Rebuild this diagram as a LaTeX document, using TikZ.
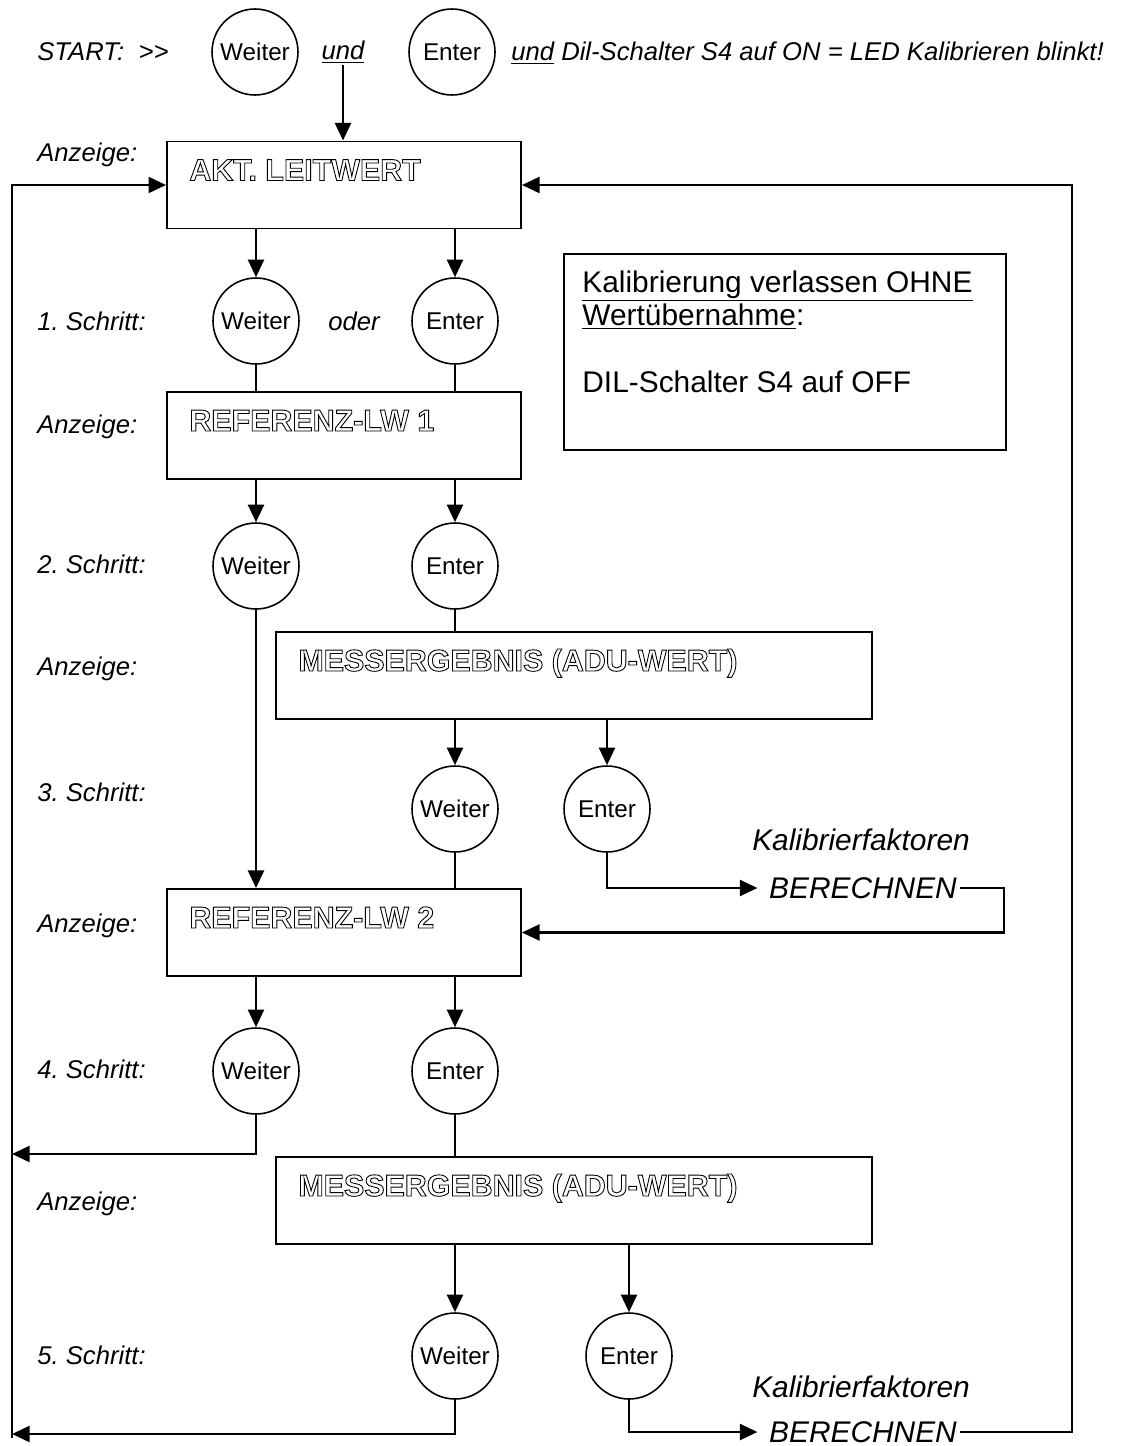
\documentclass[tikz,border=0pt]{standalone}
\usepackage{fontspec}
\setmainfont{Liberation Sans}
\usetikzlibrary{arrows.meta}
\frenchspacing
\newcommand{\keysize}{1.72cm}
\newcommand{\smallboxw}{7.08cm}
\newcommand{\wideboxw}{11.92cm}
\newcommand{\dispboxh}{1.74cm}
\newcommand{\dispinsetx}{0.46cm}
\newcommand{\dispinsety}{-0.8cm}
\newcommand{\hollow}[1]{\special{pdf:literal direct 1 Tr 0.5 w}#1\special{pdf:literal direct 0 Tr}}
\newcommand{\dispfont}{\fontsize{17.3}{20}\selectfont\bfseries}
\newcommand{\labelfont}{\fontsize{14.6}{17}\selectfont\itshape}
\newcommand{\calcfont}{\fontsize{17}{20}\selectfont\itshape}

\begin{document}
\begin{tikzpicture}[x=0.02cm,y=-0.02cm,
    key/.style={circle,draw,line width=0.9pt,minimum size=\keysize,inner sep=0pt,
      font=\fontsize{13.8}{16}\selectfont},
    dispbox/.style={draw,line width=1.1pt,minimum height=\dispboxh,inner sep=0pt},
    disptext/.style={anchor=base west,inner sep=0pt,font=\dispfont},
    lefttext/.style={anchor=base west,inner sep=0pt,font=\labelfont},
    calctext/.style={inner sep=1.5pt,font=\calcfont},
    flow/.style={line width=1.6pt},
    arr/.style={flow,-{Triangle[length=10pt,width=9pt]}}]
  \useasboundingbox (0,0) rectangle (1123,1446);

  % start line
  \node[lefttext] (start) at (37,61) {START:\ \ {>}{>}};
  \node[key] (wstart) at (255,52) {Weiter};
  \node[inner sep=1pt,font=\labelfont] (und) at (343,52) {\underline{und}};
  \node[key] (estart) at (452,52) {Enter};
  \node[lefttext] (cond) at (511,61) {\underline{und} Dil-Schalter S4 auf ON = LED Kalibrieren blinkt!};

  % left column
  \begin{scope}
    \node[lefttext] (anz1) at (37,162) {Anzeige:};
    \node[lefttext] (step1) at (37,330) {1. Schritt:};
    \node[lefttext] (anz2) at (37,433) {Anzeige:};
    \node[lefttext] (step2) at (37,573) {2. Schritt:};
    \node[lefttext] (anz3) at (37,675) {Anzeige:};
    \node[lefttext] (step3) at (37,801) {3. Schritt:};
    \node[lefttext] (anz4) at (37,932) {Anzeige:};
    \node[lefttext] (step4) at (37,1078) {4. Schritt:};
    \node[lefttext] (anz5) at (37,1210) {Anzeige:};
    \node[lefttext] (step5) at (37,1364) {5. Schritt:};
  \end{scope}

  % displays
  \node[dispbox,minimum width=\smallboxw] (akt) at (344,185) {};
  \node[disptext] (akttext) at ([xshift=\dispinsetx,yshift=\dispinsety]akt.north west) {\hollow{AKT. LEITWERT}};
  \node[dispbox,minimum width=\smallboxw] (ref1) at (344,435.5) {};
  \node[disptext] (ref1text) at ([xshift=\dispinsetx,yshift=\dispinsety]ref1.north west) {\hollow{REFERENZ-LW 1}};
  \node[dispbox,minimum width=\wideboxw] (mess1) at (574,675.5) {};
  \node[disptext] (mess1text) at ([xshift=\dispinsetx,yshift=\dispinsety]mess1.north west) {\hollow{MESSERGEBNIS (ADU-WERT)}};
  \node[dispbox,minimum width=\smallboxw] (ref2) at (344,932.5) {};
  \node[disptext] (ref2text) at ([xshift=\dispinsetx,yshift=\dispinsety]ref2.north west) {\hollow{REFERENZ-LW 2}};
  \node[dispbox,minimum width=\wideboxw] (mess2) at (574,1200.5) {};
  \node[disptext] (mess2text) at ([xshift=\dispinsetx,yshift=\dispinsety]mess2.north west) {\hollow{MESSERGEBNIS (ADU-WERT)}};

  % exit note
  \node[dispbox,minimum width=8.84cm,minimum height=3.92cm] (info) at (785,352) {};
  \node[anchor=north west,align=left,inner sep=0pt,font=\fontsize{17}{19}\selectfont] (infotext)
    at ([xshift=0.38cm,yshift=-0.34cm]info.north west)
    {\underline{Kalibrierung verlassen OHNE}\\\underline{Wertübernahme}:\\[19pt]DIL-Schalter S4 auf OFF};

  % keys
  \node[key] (w1) at (256,321) {Weiter};
  \node[inner sep=0pt,font=\labelfont] (oder) at (354,321) {oder};
  \node[key] (e1) at (455,321) {Enter};
  \node[key] (w2) at (256,566) {Weiter};
  \node[key] (e2) at (455,566) {Enter};
  \node[key] (w3) at (455,809) {Weiter};
  \node[key] (e3) at (607,809) {Enter};
  \node[key] (w4) at (256,1071) {Weiter};
  \node[key] (e4) at (455,1071) {Enter};
  \node[key] (w5) at (455,1356) {Weiter};
  \node[key] (e5) at (629,1356) {Enter};

  % calculation
  \node[calctext] (kal1) at (861,840) {Kalibrierfaktoren};
  \node[calctext] (ber1) at (863,888) {BERECHNEN};
  \node[calctext] (kal2) at (861,1387) {Kalibrierfaktoren};
  \node[calctext] (ber2) at (863,1432) {BERECHNEN};

  \coordinate (rturn) at (1004,932.5);
  \coordinate (rtop) at (1072,185);
  \coordinate (lbot) at (12,1438);
  \coordinate (lret4) at (12,1154);
  \coordinate (lret5) at (12,1434);

  % connectors
  \draw[arr] (und.south) -- (und.south |- akt.north);
  \draw[arr] (w1 |- akt.south) -- (w1.north);
  \draw[arr] (e1 |- akt.south) -- (e1.north);
  \draw[flow] (w1.south) -- (w1 |- ref1.north);
  \draw[flow] (e1.south) -- (e1 |- ref1.north);
  \draw[arr] (w2 |- ref1.south) -- (w2.north);
  \draw[arr] (e2 |- ref1.south) -- (e2.north);
  \draw[arr] (w2.south) -- (w2 |- ref2.north);
  \draw[flow] (e2.south) -- (e2 |- mess1.north);
  \draw[arr] (w3 |- mess1.south) -- (w3.north);
  \draw[arr] (e3 |- mess1.south) -- (e3.north);
  \draw[flow] (w3.south) -- (w3 |- ref2.north);
  \draw[arr,shorten >=5pt] (e3.south) |- (ber1.west);
  \draw[arr] (ber1.east) -| (rturn) -- (ref2.east);
  \draw[arr] (w4 |- ref2.south) -- (w4.north);
  \draw[arr] (e4 |- ref2.south) -- (e4.north);
  \draw[arr] (w4.south) |- (lret4);
  \draw[flow] (e4.south) -- (e4 |- mess2.north);
  \draw[arr] (w5 |- mess2.south) -- (w5.north);
  \draw[arr] (e5 |- mess2.south) -- (e5.north);
  \draw[arr] (w5.south) |- (lret5);
  \draw[arr,shorten >=5pt] (e5.south) |- (ber2.west);
  \draw[arr] (ber2.east) -| (rtop) -- (akt.east);
  \draw[arr] (lbot) |- (akt.west);
\end{tikzpicture}
\end{document}
